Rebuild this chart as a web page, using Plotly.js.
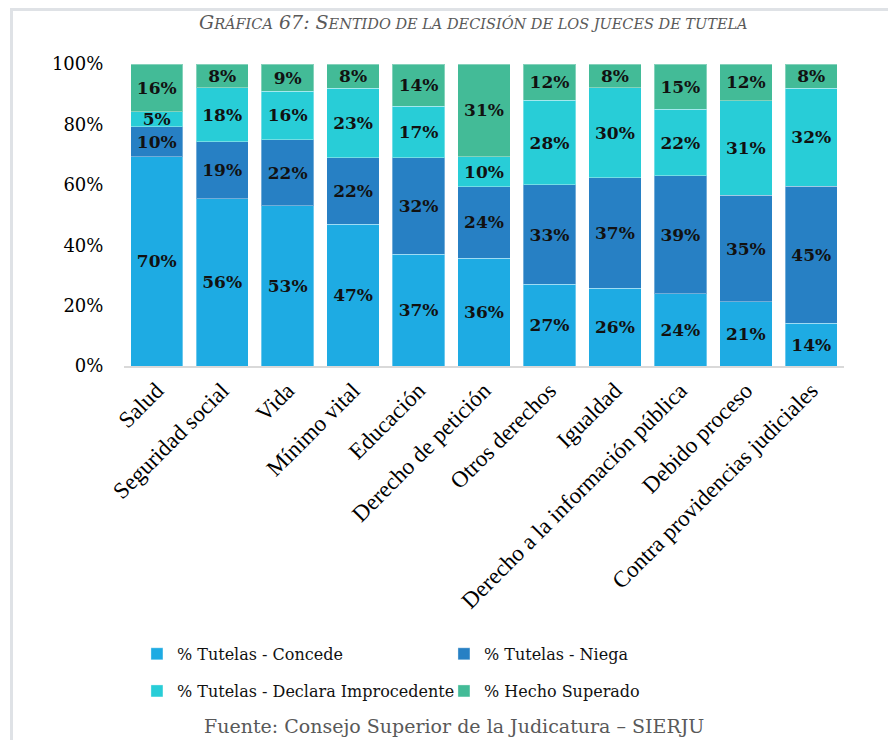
<!DOCTYPE html>
<html>
<head>
<meta charset="utf-8">
<script src="https://cdn.plot.ly/plotly-3.0.1.min.js"></script>
<style>
  html, body { margin: 0; padding: 0; background: #fff; }
  #chart { width: 888px; height: 740px; }
  #frame { position: absolute; left: 10px; top: 8px; width: 900px; height: 800px;
           border-top: 3px solid #dfe2e6; border-left: 3px solid #dfe2e6; pointer-events: none; }
</style>
</head>
<body>
<div id="chart"></div>
<div id="frame"></div>
<script>
const categories = ["Salud", "Seguridad social", "Vida", "Mínimo vital", "Educación",
  "Derecho de petición", "Otros derechos", "Igualdad", "Derecho a la información pública",
  "Debido proceso", "Contra providencias judiciales"];
const concede      = [70, 56, 53, 47, 37, 36, 27, 26, 24, 21, 14];
const niega        = [10, 19, 22, 22, 32, 24, 33, 37, 39, 35, 45];
const improcedente = [5, 18, 16, 23, 17, 10, 28, 30, 22, 31, 32];
const superado     = [16, 8, 9, 8, 14, 31, 12, 8, 15, 12, 8];
const seriesNames = ["% Tutelas - Concede", "% Tutelas - Niega",
  "% Tutelas - Declara Improcedente", "% Hecho Superado"];
const colors = ["#1eabe3", "#2780c4", "#28cdd7", "#43bb97"];
const yTicks = [0, 20, 40, 60, 80, 100];

const serif = "Liberation Serif, Times New Roman, serif";
const georgia = "DejaVu Serif, Georgia, serif";
const legendRefs = ["legend", "legend", "legend2", "legend2"];

const traces = [concede, niega, improcedente, superado].map((vals, i) => ({
  type: "bar",
  name: seriesNames[i],
  legend: legendRefs[i],
  x: categories,
  y: vals,
  text: vals.map(v => v + "%"),
  textposition: "inside",
  insidetextanchor: "middle",
  textangle: 0,
  insidetextfont: { family: georgia, size: 17, color: "#111", weight: "bold" },
  marker: { color: colors[i], line: { color: "rgba(255,255,255,0.35)", width: 1 } },
  hoverinfo: "skip"
}));

const legendBase = {
  orientation: "h",
  traceorder: "normal",
  entrywidth: 262,
  x: 0.018, xanchor: "left",
  yanchor: "top",
  font: { family: georgia, size: 16, color: "#111" },
  itemclick: false, itemdoubleclick: false,
  bgcolor: "rgba(0,0,0,0)"
};

const layout = {
  width: 888, height: 740,
  margin: { l: 124, r: 44, t: 64, b: 374 },
  barmode: "stack",
  barnorm: "percent",
  bargap: 0.2,
  paper_bgcolor: "#fff",
  plot_bgcolor: "#fff",
  uniformtext: { mode: "show", minsize: 17 },
  title: {
    text: "<i>G<span style='font-size:14.5px'>RÁFICA</span> 67: S<span style='font-size:14.5px'>ENTIDO DE LA DECISIÓN DE LOS JUECES DE TUTELA</span></i>",
    font: { family: georgia, size: 19, color: "#595959" },
    xref: "container", x: 0.533, xanchor: "center",
    yref: "container", y: 0.970, yanchor: "middle"
  },
  xaxis: {
    type: "category",
    tickangle: -45,
    tickfont: { family: serif, size: 23, color: "#000" },
    showline: true, linecolor: "#d9d9d9", linewidth: 2,
    ticks: "", showgrid: false, zeroline: false, fixedrange: true
  },
  yaxis: {
    range: [0, 100],
    tickvals: yTicks,
    ticktext: yTicks.map(v => v + "%"),
    tickfont: { family: georgia, size: 18, color: "#000" },
    ticks: "outside", ticklen: 16, tickcolor: "rgba(0,0,0,0)",
    showgrid: false, zeroline: false, showline: false, fixedrange: true
  },
  showlegend: true,
  legend: Object.assign({}, legendBase, { y: -0.897 }),
  legend2: Object.assign({}, legendBase, { y: -1.020 }),
  annotations: [{
    text: "Fuente: Consejo Superior de la Judicatura – SIERJU",
    xref: "paper", yref: "paper",
    x: 0.458, y: -1.192, xanchor: "center", yanchor: "middle",
    showarrow: false,
    font: { family: georgia, size: 19, color: "#595959" }
  }]
};

Plotly.newPlot("chart", traces, layout, { displayModeBar: false, staticPlot: true });
</script>
</body>
</html>
